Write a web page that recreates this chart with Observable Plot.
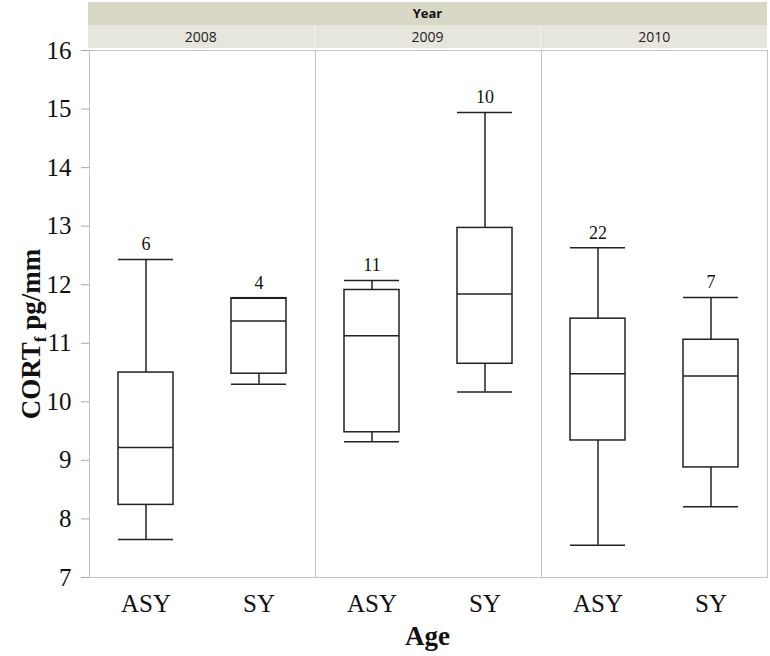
<!DOCTYPE html>
<html>
<head>
<meta charset="utf-8">
<script src="https://cdn.jsdelivr.net/npm/d3@7"></script>
<script src="https://cdn.jsdelivr.net/npm/@observablehq/plot@0.6"></script>
<style>
  html, body { margin: 0; padding: 0; background: #fff; }
  #wrap { width: 770px; position: relative; }
  #header { position: absolute; left: 88px; top: 2px; width: 679px; font-family: "Open Sans", "DejaVu Sans", sans-serif; z-index: 2; }
  #yearrow { height: 23px; background: #d9d7c6; text-align: center; font-weight: bold; font-size: 13px; line-height: 23px; color: #111; }
  #labelrow { display: flex; height: 23px; background: #e7e6dc; }
  #labelrow div { flex: 1; text-align: center; font-size: 14px; line-height: 23px; color: #222; border-left: 1px solid #f4f4ee; }
  #labelrow div:first-child { border-left: none; }
  svg { display: block; }
</style>
</head>
<body>
<div id="wrap">
  <div id="header">
    <div id="yearrow">Year</div>
    <div id="labelrow"></div>
  </div>
  <div id="chart"></div>
</div>
<script>
// ---- data ----
const years   = [2008, 2008, 2009, 2009, 2010, 2010];
const ages    = ["ASY", "SY", "ASY", "SY", "ASY", "SY"];
const mins    = [7.65, 10.30, 9.32, 10.17, 7.55, 8.21];
const q1s     = [8.24, 10.48, 9.48, 10.65, 9.34, 8.88];
const medians = [9.22, 11.38, 11.13, 11.84, 10.48, 10.44];
const q3s     = [10.50, 11.77, 11.91, 12.97, 11.42, 11.06];
const maxs    = [12.43, 11.77, 12.07, 14.94, 12.63, 11.78];
const counts  = [6, 4, 11, 10, 22, 7];
const yearLabels = [2008, 2009, 2010];
const ageLabels  = ["ASY", "SY"];
const yTicks = [7, 8, 9, 10, 11, 12, 13, 14, 15, 16];

const rows = years.map((y, i) => ({
  Year: y, Age: ages[i], min: mins[i], q1: q1s[i], median: medians[i],
  q3: q3s[i], max: maxs[i], n: counts[i]
}));

// header labels
const lr = document.getElementById("labelrow");
yearLabels.forEach(y => { const d = document.createElement("div"); d.textContent = y; lr.appendChild(d); });

const serif = "'Liberation Serif', 'Times New Roman', serif";
const ink = "#222";
const inset = 29;

const plot = Plot.plot({
  width: 770,
  height: 656,
  marginTop: 50,
  marginBottom: 79,
  marginLeft: 88,
  marginRight: 3,
  style: { fontFamily: serif, color: "#000", background: "#fff" },
  fx: { domain: yearLabels, padding: 0, axis: null },
  x: { domain: ageLabels, padding: 0 },
  y: { domain: [7, 16] },
  marks: [
    Plot.frame({ stroke: "#c4c4c4" }),
    Plot.ruleX(rows, { fx: "Year", x: "Age", y1: "min", y2: "max", stroke: ink, strokeWidth: 1.5 }),
    Plot.barY(rows, { fx: "Year", x: "Age", y1: "q1", y2: "q3", fill: "#fff", stroke: ink, strokeWidth: 1.5, insetLeft: inset, insetRight: inset }),
    Plot.tickY(rows, { fx: "Year", x: "Age", y: "median", stroke: ink, strokeWidth: 1.5, insetLeft: inset, insetRight: inset }),
    Plot.tickY(rows, { fx: "Year", x: "Age", y: "min", stroke: ink, strokeWidth: 1.5, insetLeft: inset, insetRight: inset }),
    Plot.tickY(rows, { fx: "Year", x: "Age", y: "max", stroke: ink, strokeWidth: 1.5, insetLeft: inset, insetRight: inset }),
    Plot.text(rows, { fx: "Year", x: "Age", y: "max", text: "n", dy: -15, fontSize: 18, fill: "#111" }),
    Plot.axisY({ ticks: yTicks, tickSize: 8, tickPadding: 10, stroke: "#aaa", fill: "#111", fontSize: 25, label: null, tickFormat: d => String(d) }),
    Plot.axisX({ tickSize: 0, tickPadding: 17, fontSize: 25, fill: "#111", label: null })
  ]
});

document.getElementById("chart").appendChild(plot);

// axis titles (y title needs a subscript)
const svg = d3.select(plot);
const yt = svg.append("text")
  .attr("transform", "translate(40, 334) rotate(-90)")
  .attr("text-anchor", "middle")
  .attr("font-family", serif)
  .attr("font-weight", "bold")
  .attr("font-size", 27)
  .attr("fill", "#111");
yt.append("tspan").text("CORT");
yt.append("tspan").attr("font-size", 17).attr("dy", 6).text("f");
yt.append("tspan").attr("dy", -6).text(" pg/mm");

svg.append("text")
  .attr("x", (88 + 767) / 2)
  .attr("y", 645)
  .attr("text-anchor", "middle")
  .attr("font-family", serif)
  .attr("font-weight", "bold")
  .attr("font-size", 27)
  .attr("fill", "#111")
  .text("Age");
</script>
</body>
</html>
